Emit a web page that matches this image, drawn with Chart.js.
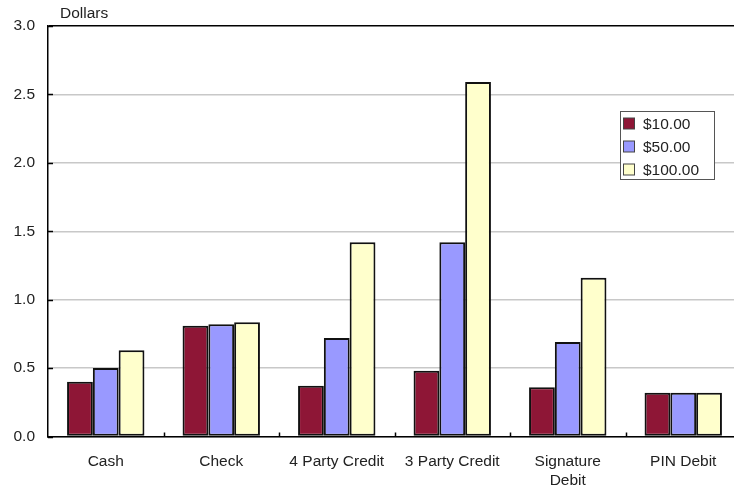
<!DOCTYPE html>
<html>
<head>
<meta charset="utf-8">
<script src="https://cdn.jsdelivr.net/npm/chart.js@4/dist/chart.umd.min.js"></script>
<style>
  html, body { margin: 0; padding: 0; background: #fff; overflow: hidden; }
  #wrap { width: 734px; height: 489px; overflow: hidden; }
  canvas { display: block; }
</style>
</head>
<body>
<div id="wrap"><canvas id="c" width="742" height="489"></canvas></div>
<script>
// Per-transaction cost by payment method, for three purchase amounts
const categories = ['Cash', 'Check', '4 Party Credit', '3 Party Credit', ['Signature', 'Debit'], 'PIN Debit'];
const seriesNames = ['$10.00', '$50.00', '$100.00'];
const cost10  = [0.40, 0.81, 0.37, 0.48, 0.36, 0.32];
const cost50  = [0.50, 0.82, 0.72, 1.42, 0.69, 0.32];
const cost100 = [0.63, 0.835, 1.42, 2.59, 1.16, 0.32];
const yTicks = [0, 0.5, 1.0, 1.5, 2.0, 2.5, 3.0];
const yUnit = 'Dollars';

const fillColors = ['#8e1636', '#9999ff', '#ffffcc'];
const textColor = '#222';
const fontFamily = '"Liberation Sans", Arial, sans-serif';
const fontSize = 15.5;

// Frame details: unit label, inner tick marks, boxed legend
const decorations = {
  id: 'decorations',
  afterDatasetsDraw(chart) {
    const ctx = chart.ctx;
    const area = chart.chartArea;
    const x = chart.scales.x;
    const y = chart.scales.y;
    ctx.save();
    ctx.strokeStyle = '#000';
    ctx.lineWidth = 1.5;
    // y tick marks, pointing into the plot
    yTicks.forEach(v => {
      const py = Math.round(y.getPixelForValue(v)) + 0.5;
      ctx.beginPath();
      ctx.moveTo(area.left, py);
      ctx.lineTo(area.left + 5, py);
      ctx.stroke();
    });
    // x tick marks between categories
    for (let i = 1; i < categories.length; i++) {
      const px = Math.round((x.getPixelForValue(i - 1) + x.getPixelForValue(i)) / 2) + 0.5;
      ctx.beginPath();
      ctx.moveTo(px, area.bottom);
      ctx.lineTo(px, area.bottom - 4);
      ctx.stroke();
    }
    // unit label
    ctx.fillStyle = textColor;
    ctx.font = fontSize + 'px ' + fontFamily;
    ctx.textAlign = 'left';
    ctx.textBaseline = 'middle';
    ctx.fillText(yUnit, 60, 14);

    // legend box
    const lx = 620.5, ly = 111.5, lw = 94, lh = 68;
    ctx.fillStyle = '#fff';
    ctx.fillRect(lx, ly, lw, lh);
    ctx.lineWidth = 1;
    ctx.strokeStyle = '#555';
    ctx.strokeRect(lx, ly, lw, lh);
    chart.data.datasets.forEach((ds, i) => {
      const cy = 123.5 + i * 23;
      ctx.fillStyle = ds.backgroundColor;
      ctx.fillRect(623.5, cy - 5.5, 11, 11);
      ctx.strokeStyle = '#444';
      ctx.strokeRect(623.5, cy - 5.5, 11, 11);
      ctx.fillStyle = textColor;
      ctx.fillText(ds.label, 643, cy + 1);
    });
    ctx.restore();
  }
};

const datasets = [cost10, cost50, cost100].map((vals, i) => ({
  label: seriesNames[i],
  data: vals,
  backgroundColor: fillColors[i],
  borderColor: '#111',
  borderWidth: 2,
  borderSkipped: false,
  barPercentage: 1.0,
  categoryPercentage: 0.67
}));

new Chart(document.getElementById('c'), {
  type: 'bar',
  data: { labels: categories, datasets },
  options: {
    responsive: false,
    animation: false,
    devicePixelRatio: 1,
    layout: { padding: { top: 26, right: 1, bottom: 0, left: 0 } },
    plugins: { legend: { display: false }, tooltip: { enabled: false } },
    scales: {
      x: {
        grid: { display: false },
        border: { display: true, color: '#000', width: 1.5 },
        ticks: {
          color: textColor,
          font: { family: fontFamily, size: fontSize, lineHeight: 1.22 },
          padding: 8,
          maxRotation: 0,
          autoSkip: false
        },
        afterFit(scale) { scale.height = 52.5; }
      },
      y: {
        min: 0,
        max: 3,
        afterBuildTicks(scale) { scale.ticks = yTicks.map(v => ({ value: v })); },
        grid: {
          drawTicks: false,
          lineWidth: 1.5,
          color: ctx => (ctx.tick && ctx.tick.value === 3 ? '#000' : '#c8c8c8')
        },
        border: { display: true, color: '#000', width: 1.5 },
        ticks: {
          color: textColor,
          font: { family: fontFamily, size: fontSize },
          padding: 13,
          callback: v => Number(v).toFixed(1)
        },
        afterFit(scale) { scale.width = 48; }
      }
    }
  },
  plugins: [decorations]
});
</script>
</body>
</html>
